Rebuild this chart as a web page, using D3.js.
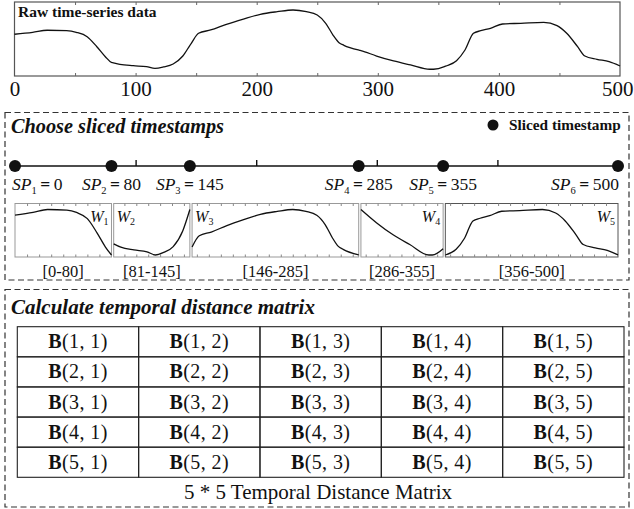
<!DOCTYPE html>
<html>
<head>
<meta charset="utf-8">
<script src="https://cdn.jsdelivr.net/npm/d3@7"></script>
<style>
  html, body { margin: 0; padding: 0; background: #fff; }
  svg { display: block; font-family: "Liberation Serif", "Times New Roman", serif; }
</style>
</head>
<body>
<svg id="chart" width="634" height="509"></svg>
<script>
// ---------------- DATA ----------------
const rawT = [0,15,27,43,51,60,68,75,80,81,87,98,109,116,123,131,139,145,146,152,162,175,189,203,217,230,241,250,257,263,268,272,285,286,299,313,327,343,346,355,356,365,372,379,385,393,403,418,437,448,456,465,471,481,491,500];
const rawV = [56.4,59,61.8,61.2,59,53.1,39.6,26.1,18.5,18.1,15.8,13.9,12.6,10.4,12.2,16.2,27,41.8,44.2,57.7,62.2,69.9,77,83.4,86.9,89.2,86.9,82.4,71.2,55.4,45,41.5,34.7,34.3,27,20.3,14.9,9.1,9.1,12.6,13.3,20.7,35.1,57.7,61.2,64.5,70.3,71.2,72.6,68,57.7,39.6,27,22.6,19.3,13.5];
const axisTicks = [0, 100, 200, 300, 400, 500];
const sliceTs = [0, 80, 145, 285, 355, 500];
const windowStarts = [0, 81, 146, 286, 356];
const windowEnds = [80, 145, 285, 355, 500];
const windowNames = ["1", "2", "3", "4", "5"];
const windowLabels = ["[0-80]", "[81-145]", "[146-285]", "[286-355]", "[356-500]"];
const matrixRows = [1, 2, 3, 4, 5];
const matrixCols = [1, 2, 3, 4, 5];
const titleRaw = "Raw time-series data";
const titleSlice = "Choose sliced timestamps";
const titleMatrix = "Calculate temporal distance matrix";
const legendText = "Sliced timestamp";
const matrixCaption = "5 * 5 Temporal Distance Matrix";

const raw = rawT.map((t, i) => ({ t, v: rawV[i] }));
const svg = d3.select("#chart");

// ---------------- TOP: raw series ----------------
const topBox = { x0: 14.5, x1: 620, y0: 2, y1: 76 };
const xRaw = d3.scaleLinear().domain([0, 500]).range([topBox.x0, topBox.x1]);
const yRaw = d3.scaleLinear().domain([0, 100]).range([topBox.y1, topBox.y0]);

svg.append("rect").attr("x", topBox.x0).attr("y", topBox.y0)
  .attr("width", topBox.x1 - topBox.x0).attr("height", topBox.y1 - topBox.y0)
  .attr("fill", "none").attr("stroke", "#555").attr("stroke-width", 1.2);

const minor = d3.range(50, 500, 50);
svg.append("g").attr("transform", `translate(0,${topBox.y1})`)
  .call(d3.axisBottom(xRaw).tickValues(minor).tickSize(-3).tickFormat(""))
  .call(g => g.select(".domain").remove())
  .call(g => g.selectAll("line").attr("stroke", "#666"));
svg.append("g").attr("transform", `translate(0,${topBox.y0})`)
  .call(d3.axisTop(xRaw).tickValues(minor).tickSize(-3).tickFormat(""))
  .call(g => g.select(".domain").remove())
  .call(g => g.selectAll("line").attr("stroke", "#666"));

svg.append("g").attr("transform", `translate(0,${topBox.y1})`)
  .call(d3.axisBottom(xRaw).tickValues(axisTicks).tickSize(0).tickPadding(5).tickFormat(d3.format("d")))
  .call(g => g.select(".domain").remove())
  .call(g => g.selectAll("text").attr("font-size", 21).attr("font-family", "Liberation Serif").attr("fill", "#111"))
  .call(g => g.selectAll("text").filter(d => d === 500).attr("text-anchor", "end").attr("dx", 13));

const lineRaw = d3.line().x(d => xRaw(d.t)).y(d => yRaw(d.v)).curve(d3.curveMonotoneX);
svg.append("path").datum(raw).attr("d", lineRaw)
  .attr("fill", "none").attr("stroke", "#111").attr("stroke-width", 1.3);

svg.append("text").attr("x", 18).attr("y", 17)
  .attr("font-size", 15.5).attr("font-weight", "bold").attr("fill", "#111").text(titleRaw);

// ---------------- MIDDLE: slicing ----------------
svg.append("rect").attr("x", 5).attr("y", 112.5).attr("width", 624).attr("height", 167.5)
  .attr("fill", "none").attr("stroke", "#333").attr("stroke-width", 1.2).attr("stroke-dasharray", "6,3.5");

svg.append("text").attr("x", 11).attr("y", 132.5)
  .attr("font-size", 20.3).attr("font-weight", "bold").attr("font-style", "italic").attr("fill", "#111")
  .text(titleSlice);

svg.append("circle").attr("cx", 493).attr("cy", 125).attr("r", 5.5).attr("fill", "#111");
svg.append("text").attr("x", 509).attr("y", 129.5)
  .attr("font-size", 15.3).attr("font-weight", "bold").attr("fill", "#111").text(legendText);

const xTl = d3.scaleLinear().domain([0, 500]).range([15, 618]);
const tlY = 166;
svg.append("line").attr("x1", xTl(0)).attr("x2", xTl(500)).attr("y1", tlY).attr("y2", tlY)
  .attr("stroke", "#111").attr("stroke-width", 1.4);
svg.append("g").attr("transform", `translate(0,${tlY})`)
  .call(d3.axisTop(xTl).tickValues([100, 200, 300, 400]).tickSize(6).tickFormat(""))
  .call(g => g.select(".domain").remove())
  .call(g => g.selectAll("line").attr("stroke", "#111").attr("stroke-width", 1.4));
svg.selectAll("circle.sp").data(sliceTs).join("circle").attr("class", "sp")
  .attr("cx", d => xTl(d)).attr("cy", tlY).attr("r", 6).attr("fill", "#111");

const spLabels = svg.selectAll("text.sp").data(sliceTs).join("text").attr("class", "sp")
  .attr("x", (d, i) => i === 0 ? xTl(d) - 3 : i === sliceTs.length - 1 ? xTl(d) + 1 : xTl(d))
  .attr("y", 189.5)
  .attr("text-anchor", (d, i) => i === 0 ? "start" : i === sliceTs.length - 1 ? "end" : "middle")
  .attr("font-size", 17.5).attr("fill", "#111");
spLabels.append("tspan").attr("font-style", "italic").text("SP");
spLabels.append("tspan").attr("font-size", 10.5).attr("dy", 4).text((d, i) => i + 1);
spLabels.append("tspan").attr("dy", -4).attr("font-weight", "bold").text("\u2009=\u2009");
spLabels.append("tspan").text(d => d);

// window panels
const pTop = 203.5, pBot = 257;
windowStarts.forEach((s, i) => {
  const e = windowEnds[i];
  const x0 = xTl(s) + (i === 0 ? 0 : 1), x1 = xTl(e);
  const pts = raw.filter(d => d.t >= s && d.t <= e);
  const px = d3.scaleLinear().domain([s, e]).range([x0, x1]);
  const ext = d3.extent(pts, d => d.v);
  const py = d3.scaleLinear().domain(ext).range([pBot - 2, pTop + 6]);
  const borderCol = i === 4 ? "#555" : "#999";
  svg.append("rect").attr("x", x0).attr("y", pTop).attr("width", x1 - x0).attr("height", pBot - pTop)
    .attr("fill", "none").attr("stroke", borderCol).attr("stroke-width", 1);
  const tv = d3.range(Math.ceil((s + 1) / 10) * 10, e, 10);
  svg.append("g").attr("transform", `translate(0,${pBot})`)
    .call(d3.axisBottom(px).tickValues(tv).tickSize(-2.5).tickFormat(""))
    .call(g => g.select(".domain").remove())
    .call(g => g.selectAll("line").attr("stroke", "#888"));
  svg.append("g").attr("transform", `translate(0,${pTop})`)
    .call(d3.axisTop(px).tickValues(tv).tickSize(-2.5).tickFormat(""))
    .call(g => g.select(".domain").remove())
    .call(g => g.selectAll("line").attr("stroke", "#888"));
  svg.append("path").datum(pts)
    .attr("d", d3.line().x(d => px(d.t)).y(d => py(d.v)).curve(d3.curveMonotoneX))
    .attr("fill", "none").attr("stroke", "#111").attr("stroke-width", 1.3);
  const leftSide = (i === 1 || i === 2);
  const wl = svg.append("text")
    .attr("x", leftSide ? x0 + 3 : x1 - 3).attr("y", 222)
    .attr("text-anchor", leftSide ? "start" : "end")
    .attr("font-size", 16).attr("fill", "#111");
  wl.append("tspan").attr("font-style", "italic").text("W");
  wl.append("tspan").attr("font-size", 10).attr("dy", 3).text(windowNames[i]);
  svg.append("text").attr("x", (x0 + x1) / 2).attr("y", 276.5).attr("text-anchor", "middle")
    .attr("font-size", 16.5).attr("fill", "#111").text(windowLabels[i]);
});

// ---------------- BOTTOM: matrix ----------------
svg.append("rect").attr("x", 5).attr("y", 289.5).attr("width", 624).attr("height", 217.5)
  .attr("fill", "none").attr("stroke", "#333").attr("stroke-width", 1.2).attr("stroke-dasharray", "6,3.5");

svg.append("text").attr("x", 11).attr("y", 313.5)
  .attr("font-size", 21).attr("font-weight", "bold").attr("font-style", "italic").attr("fill", "#111")
  .text(titleMatrix);

const xM = d3.scaleBand().domain(matrixCols).range([17.3, 624]);
const yM = d3.scaleBand().domain(matrixRows).range([326.7, 477.3]);
const cells = [];
matrixRows.forEach(r => matrixCols.forEach(c => cells.push({ r, c })));
const cg = svg.append("g");
cg.selectAll("rect").data(cells).join("rect")
  .attr("x", d => xM(d.c)).attr("y", d => yM(d.r))
  .attr("width", xM.bandwidth()).attr("height", yM.bandwidth())
  .attr("fill", "none").attr("stroke", "#222").attr("stroke-width", 1.1);
const ct = cg.selectAll("text").data(cells).join("text")
  .attr("x", d => xM(d.c) + xM.bandwidth() / 2)
  .attr("y", d => yM(d.r) + yM.bandwidth() / 2 + 6.5)
  .attr("text-anchor", "middle").attr("font-size", 20).attr("letter-spacing", 0.4).attr("fill", "#111");
ct.append("tspan").attr("font-weight", "bold").text("B");
ct.append("tspan").text(d => `(${d.r}, ${d.c})`);

svg.append("text").attr("x", 318).attr("y", 498.5).attr("text-anchor", "middle")
  .attr("font-size", 21).attr("fill", "#111").text(matrixCaption);
</script>
</body>
</html>
